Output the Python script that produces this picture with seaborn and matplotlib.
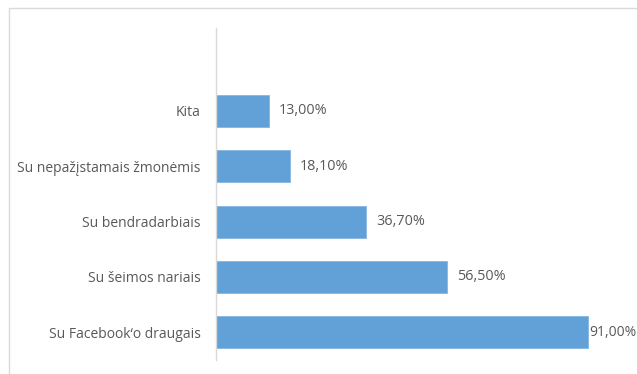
import matplotlib
matplotlib.use("Agg")
import matplotlib.pyplot as plt
import seaborn as sns
import pandas as pd
from matplotlib.patches import Rectangle

# values
categories = ["Kita", "Su nepažįstamais žmonėmis", "Su bendradarbiais",
              "Su šeimos nariais", "Su Facebook‘o draugais"]
shares = [13.0, 18.1, 36.7, 56.5, 91.0]

df = pd.DataFrame({"kategorija": categories, "dalis": shares})

sns.set_theme(style="white")
plt.rcParams["font.family"] = ["Open Sans", "DejaVu Sans"]

W, H = 637, 374
fig = plt.figure(figsize=(W / 100, H / 100), dpi=100)
# axes in pixel coords: x 216..625, y 28..360
ax = fig.add_axes([216 / W, 1 - 360 / H, (625 - 216) / W, (360 - 28) / H])

sns.barplot(data=df, y="kategorija", x="dalis", orient="h", color="#62A0D8",
            width=0.58, edgecolor="#85B6E2", linewidth=0.6, saturation=1, ax=ax)

ax.set_xlim(0, 100)
ax.set_ylim(4.5, -1.5)
ax.set_xlabel("")
ax.set_ylabel("")
ax.set_xticks([])
for s in ["top", "right", "bottom"]:
    ax.spines[s].set_visible(False)
ax.spines["left"].set_color("#D9D9D9")
ax.spines["left"].set_linewidth(1.0)
ax.tick_params(axis="y", length=0, pad=11, labelsize=10.0, labelcolor="#595959")

for i, v in enumerate(shares):
    lab = f"{v:.2f}%".replace(".", ",")
    off = 0.6 if v > 90 else 7
    fs = 10.0 if v > 90 else 10.4
    ax.annotate(lab, (v, i), xytext=(off, 0), textcoords="offset points",
                va="center", ha="left", fontsize=fs, color="#595959",
                annotation_clip=False)

# light chart-area frame (continues off the right and bottom edges)
fig.patches.append(Rectangle((9 / W, -0.05), 1.1, 1 - 8 / H + 0.05,
                             transform=fig.transFigure, fill=False,
                             edgecolor="#D9D9D9", linewidth=1.0))

fig.savefig("out.png", dpi=100)
